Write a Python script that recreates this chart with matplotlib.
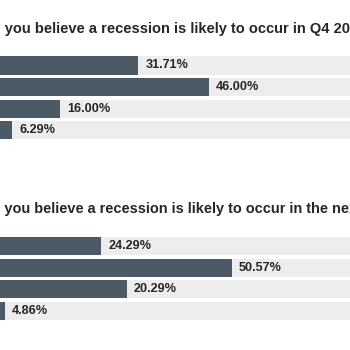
import matplotlib
matplotlib.use("Agg")
import matplotlib.pyplot as plt

# ---- data ----
titles = [
    "Do you believe a recession is likely to occur in Q4 2023?",
    "Do you believe a recession is likely to occur in the next 12 months?",
]
categories = ["Very likely", "Somewhat likely", "Somewhat unlikely", "Very unlikely"]
q4_values = [31.71, 46.00, 16.00, 6.29]
q4_labels = ["31.71%", "46.00%", "16.00%", "6.29%"]
next12_values = [24.29, 50.57, 29.40, 4.86]   # bar lengths as drawn
next12_labels = ["24.29%", "50.57%", "20.29%", "4.86%"]

W = H = 350
DPI = 100
BAR_COLOR = "#4b5a64"
BG_COLOR = "#ededed"
TEXT_COLOR = "#262626"
FONT = ["Liberation Sans", "DejaVu Sans"]
TITLE_FONT = ["Liberation Sans", "DejaVu Sans"]

fig = plt.figure(figsize=(W / DPI, H / DPI), dpi=DPI)
fig.patch.set_facecolor("white")

def px_axes(top, bottom):
    return fig.add_axes([0, 1 - bottom / H, 1, (bottom - top) / H])

# pixel mapping: px = -19 + 4.96 * value
x0 = 19 / 4.96
x1 = (W + 19) / 4.96

panels = [
    (titles[0], q4_values, q4_labels, 54.7, 141.0, 33.0, 5.0,
     "you believe a recession is likely to occur in Q4 202", 349.0),
    (titles[1], next12_values, next12_labels, 235.7, 321.3, 213.3, 4.0,
     "you believe a recession is likely to occur in the nex", 348.0),
]

renderer = fig.canvas.get_renderer()

def text_width(s, size):
    tt = fig.text(0, 0, s, fontsize=size, fontweight="bold", family=TITLE_FONT)
    w = tt.get_window_extent(renderer).width
    tt.remove()
    return w

for title, vals, labs, top, bottom, base_y, you_x, vis, right_x in panels:
    ax = px_axes(top, bottom)
    ypos = list(range(len(vals)))
    ax.barh(ypos, [100] * len(vals), height=0.84, color=BG_COLOR, left=0)
    ax.barh(ypos, vals, height=0.84, color=BAR_COLOR, left=0)
    for y, v, lab in zip(ypos, vals, labs):
        ax.text(v + 1.4, y, lab, va="center", ha="left", fontsize=9.1,
                fontweight="bold", color=TEXT_COLOR, family=FONT)
    ax.set_xlim(x0, x1)
    ax.set_ylim(len(vals) - 0.5, -0.5)
    ax.axis("off")

    size = 11.0
    for _ in range(4):
        size *= (right_x - you_x) / text_width(vis, size)
    size *= 1.025  # rendered glyph run is slightly narrower than measured
    wp = text_width("Do " + vis, size) - text_width(vis, size)
    fig.text((you_x - wp) / W, 1 - base_y / H, title, ha="left",
             va="baseline", fontsize=size, fontweight="bold",
             color=TEXT_COLOR, family=TITLE_FONT)

fig.savefig("out.png", dpi=DPI, facecolor="white")
